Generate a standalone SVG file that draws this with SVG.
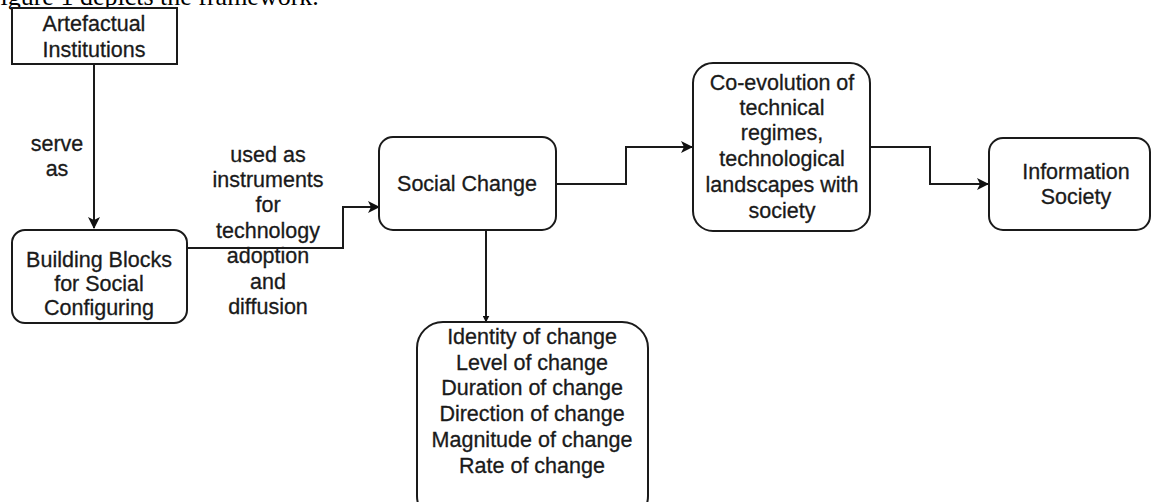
<svg xmlns="http://www.w3.org/2000/svg" width="1152" height="502" viewBox="0 0 1152 502">
<defs>
<marker id="arr" viewBox="0 0 12 12" refX="11" refY="6" markerWidth="12" markerHeight="12" markerUnits="userSpaceOnUse" orient="auto">
<path d="M0,0 L12,6 L0,12 L3,6 Z" fill="#111"/>
</marker>
<marker id="arrs" viewBox="0 0 12 12" refX="11" refY="6" markerWidth="7" markerHeight="7" markerUnits="userSpaceOnUse" orient="auto">
<path d="M0,0 L12,6 L0,12 Z" fill="#111"/>
</marker>
<style>
.box{fill:#fff;stroke:#1a1a1a;stroke-width:2}
.t{font-family:"Liberation Sans",Arial,sans-serif;font-size:21.5px;fill:#1a1a1a;stroke:#1a1a1a;stroke-width:0.3;text-anchor:middle}
.c{fill:none;stroke:#1a1a1a;stroke-width:2}
.cap{font-family:"Liberation Serif","Times New Roman",serif;font-size:26px;fill:#000}
</style>
</defs>
<rect width="1152" height="502" fill="#fff"/>
<text class="cap" x="-14" y="5">Figure 1 depicts the framework.</text>
<g id="connectors">
<path class="c" d="M94,64 V228" marker-end="url(#arr)"/>
<path class="c" d="M187,248 H343 V207 H379" marker-end="url(#arr)"/>
<path class="c" d="M556,184 H626 V147 H692" marker-end="url(#arr)"/>
<path class="c" d="M870,147 H930 V184 H988" marker-end="url(#arr)"/>
<path class="c" d="M486,230 V322" marker-end="url(#arrs)"/>
<text class="t" x="57" y="151">serve</text>
<text class="t" x="57" y="176">as</text>
<text class="t" x="268" y="162">used as</text>
<text class="t" x="268" y="187">instruments</text>
<text class="t" x="268" y="212">for</text>
<text class="t" x="268" y="238">technology</text>
<text class="t" x="268" y="263">adoption</text>
<text class="t" x="268" y="289">and</text>
<text class="t" x="268" y="314">diffusion</text>
</g>
<g id="artefactual">
<rect class="box" x="12" y="8" width="165" height="56"/>
<text class="t" x="94" y="31">Artefactual</text>
<text class="t" x="94" y="57">Institutions</text>
</g>
<g id="building-blocks">
<rect class="box" x="12" y="230" width="175" height="93" rx="13"/>
<text class="t" x="99" y="267">Building Blocks</text>
<text class="t" x="99" y="291">for Social</text>
<text class="t" x="99" y="315">Configuring</text>
</g>
<g id="social-change">
<rect class="box" x="379" y="137" width="177" height="93" rx="14"/>
<text class="t" x="467" y="191">Social Change</text>
</g>
<g id="co-evolution">
<rect class="box" x="693" y="63" width="177" height="168" rx="20"/>
<text class="t" x="782" y="90">Co-evolution of</text>
<text class="t" x="782" y="115">technical</text>
<text class="t" x="782" y="140">regimes,</text>
<text class="t" x="782" y="166">technological</text>
<text class="t" x="782" y="192">landscapes with</text>
<text class="t" x="782" y="218">society</text>
</g>
<g id="information-society">
<rect class="box" x="989" y="138" width="161" height="92" rx="14"/>
<text class="t" x="1076" y="179">Information</text>
<text class="t" x="1076" y="204">Society</text>
</g>
<g id="change-dimensions">
<rect class="box" x="417" y="322" width="231" height="200" rx="26"/>
<text class="t" x="532" y="344">Identity of change</text>
<text class="t" x="532" y="370">Level of change</text>
<text class="t" x="532" y="395">Duration of change</text>
<text class="t" x="532" y="421">Direction of change</text>
<text class="t" x="532" y="447">Magnitude of change</text>
<text class="t" x="532" y="473">Rate of change</text>
</g>
</svg>
